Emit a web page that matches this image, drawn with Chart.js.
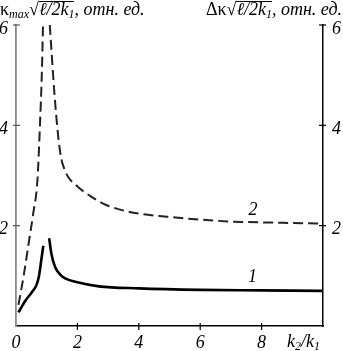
<!DOCTYPE html>
<html>
<head>
<meta charset="utf-8">
<script src="https://cdn.jsdelivr.net/npm/chart.js@4"></script>
<style>
body { margin: 0; background: #fff; }
#wrap { position: relative; width: 343px; height: 351px; }
.t { position: absolute; font-family: "Liberation Serif", serif; font-size: 18px; line-height: 18px; color: #000; white-space: nowrap; }
.t i { font-style: italic; }
.t sub { font-size: 12px; vertical-align: -3px; line-height: 0; }
.ov { display: inline-block; border-top: 1px solid #000; line-height: 15px; font-style: italic; }
</style>
</head>
<body>
<div id="wrap">
<canvas id="chart" width="343" height="351"></canvas>
<div class="t" style="left:0;top:0">κ<sub><i>max</i></sub>√<span class="ov">ℓ/2k<sub>1</sub></span><i>, отн. ед.</i></div>
<div class="t" style="right:1px;top:0">Δκ√<span class="ov">ℓ/2k<sub>1</sub></span><i>, отн. ед.</i></div>
<div class="t" style="left:287px;top:332px"><i>k<sub>2</sub>/k<sub>1</sub></i></div>
</div>
<script>
// curve 1 (solid), gap at the resonance
var ratio1 = [0.08, 0.3, 0.5, 0.67, 0.75, 0.82, 0.89, 0.98, 1.08, 1.15, 1.27, 1.45, 1.6, 2.0, 2.7, 4, 6, 8, 10];
var kappaMax = [0.27, 0.5, 0.66, 0.82, 1.0, 1.3, 1.6, null, 1.75, 1.45, 1.18, 1.02, 0.95, 0.87, 0.79, 0.75, 0.72, 0.71, 0.70];

// curve 2 (dashed)
var ratio2 = [0.08, 0.25, 0.4, 0.55, 0.7, 0.78, 0.84, 0.88, 0.99, 1.1, 1.25, 1.38, 1.47, 1.58, 1.7, 2.0, 2.4, 2.84, 3.33, 4, 4.91, 6, 7.08, 8.5, 10];
var deltaKappa = [0.42, 1.0, 1.6, 2.2, 2.93, 4.0, 5.0, 6.0, null, 6.0, 4.65, 3.75, 3.35, 3.12, 2.97, 2.78, 2.6, 2.44, 2.33, 2.24, 2.18, 2.12, 2.08, 2.06, 2.04];

var xTicks = [0, 2, 4, 6, 8];
var yTicks = [2, 4, 6];

// curve numbers
var curveLabels = ["1", "2"];
var curveLabelX = [7.7, 7.72];
var curveLabelY = [0.98, 2.31];

function toPoints(xs, ys) {
    return xs.map(function(x, i) { return {x: x, y: ys[i]}; });
}

var tickFont = {family: "'Liberation Serif', 'Times New Roman', serif", size: 18, style: "italic"};

var crossTicks = {
    id: 'crossTicks',
    afterDraw: function(chart) {
        var ctx = chart.ctx;
        var sx = chart.scales.x, yl = chart.scales.y, yr = chart.scales.y2;
        ctx.save();
        ctx.lineWidth = 1.2;
        ctx.strokeStyle = '#000';
        xTicks.forEach(function(v) {
            if (v === 0) return;
            var px = sx.getPixelForValue(v);
            ctx.beginPath();
            ctx.moveTo(px, sx.top - 3);
            ctx.lineTo(px, sx.top + 4);
            ctx.stroke();
        });
        yTicks.forEach(function(v) {
            var py = yl.getPixelForValue(v);
            ctx.strokeStyle = '#555';
            ctx.beginPath();
            ctx.moveTo(yl.right - 3, py);
            ctx.lineTo(yl.right + 4, py);
            ctx.stroke();
            ctx.strokeStyle = '#000';
            ctx.beginPath();
            ctx.moveTo(yr.left - 4, py);
            ctx.lineTo(yr.left + 3, py);
            ctx.stroke();
        });
        ctx.fillStyle = '#000';
        ctx.font = "italic 18px 'Liberation Serif', serif";
        ctx.textAlign = 'center';
        ctx.textBaseline = 'middle';
        curveLabels.forEach(function(t, i) {
            ctx.fillText(t, sx.getPixelForValue(curveLabelX[i]), yl.getPixelForValue(curveLabelY[i]));
        });
        ctx.restore();
    }
};

var ctx = document.getElementById("chart").getContext('2d');

var chart = new Chart(ctx, {
    type: 'line',
    data: {
        datasets: [{
            data: toPoints(ratio1, kappaMax),
            borderColor: '#000',
            borderWidth: 2.6,
            pointRadius: 0,
            cubicInterpolationMode: 'monotone',
            spanGaps: false
        }, {
            data: toPoints(ratio2, deltaKappa),
            borderColor: '#222',
            borderWidth: 2,
            borderDash: [10, 5],
            pointRadius: 0,
            cubicInterpolationMode: 'monotone',
            spanGaps: false
        }]
    },
    options: {
        responsive: false,
        animation: false,
        layout: {padding: {top: 25, left: 0, right: 0, bottom: 0}},
        plugins: {legend: {display: false}, tooltip: {enabled: false}},
        scales: {
            x: {
                type: 'linear', min: 0, max: 10,
                afterFit: function(s) { s.height = 25; },
                afterBuildTicks: function(s) { s.ticks = xTicks.map(function(v) { return {value: v}; }); },
                grid: {drawOnChartArea: false, drawTicks: false},
                border: {color: '#000', width: 1.5},
                ticks: {color: '#000', font: tickFont, padding: 6, maxRotation: 0}
            },
            y: {
                position: 'left', min: 0, max: 6,
                afterFit: function(s) { s.width = 16; },
                afterBuildTicks: function(s) { s.ticks = yTicks.map(function(v) { return {value: v}; }); },
                grid: {drawOnChartArea: false, drawTicks: false},
                border: {color: '#8a8a8a', width: 1.8},
                ticks: {color: '#000', font: tickFont, padding: 8, labelOffset: 4}
            },
            y2: {
                position: 'right', min: 0, max: 6,
                afterFit: function(s) { s.width = 20; },
                afterBuildTicks: function(s) { s.ticks = yTicks.map(function(v) { return {value: v}; }); },
                grid: {drawOnChartArea: false, drawTicks: false},
                border: {color: '#000', width: 1.5},
                ticks: {color: '#000', font: tickFont, padding: 9, labelOffset: 4}
            }
        }
    },
    plugins: [crossTicks]
});
</script>
</body>
</html>
